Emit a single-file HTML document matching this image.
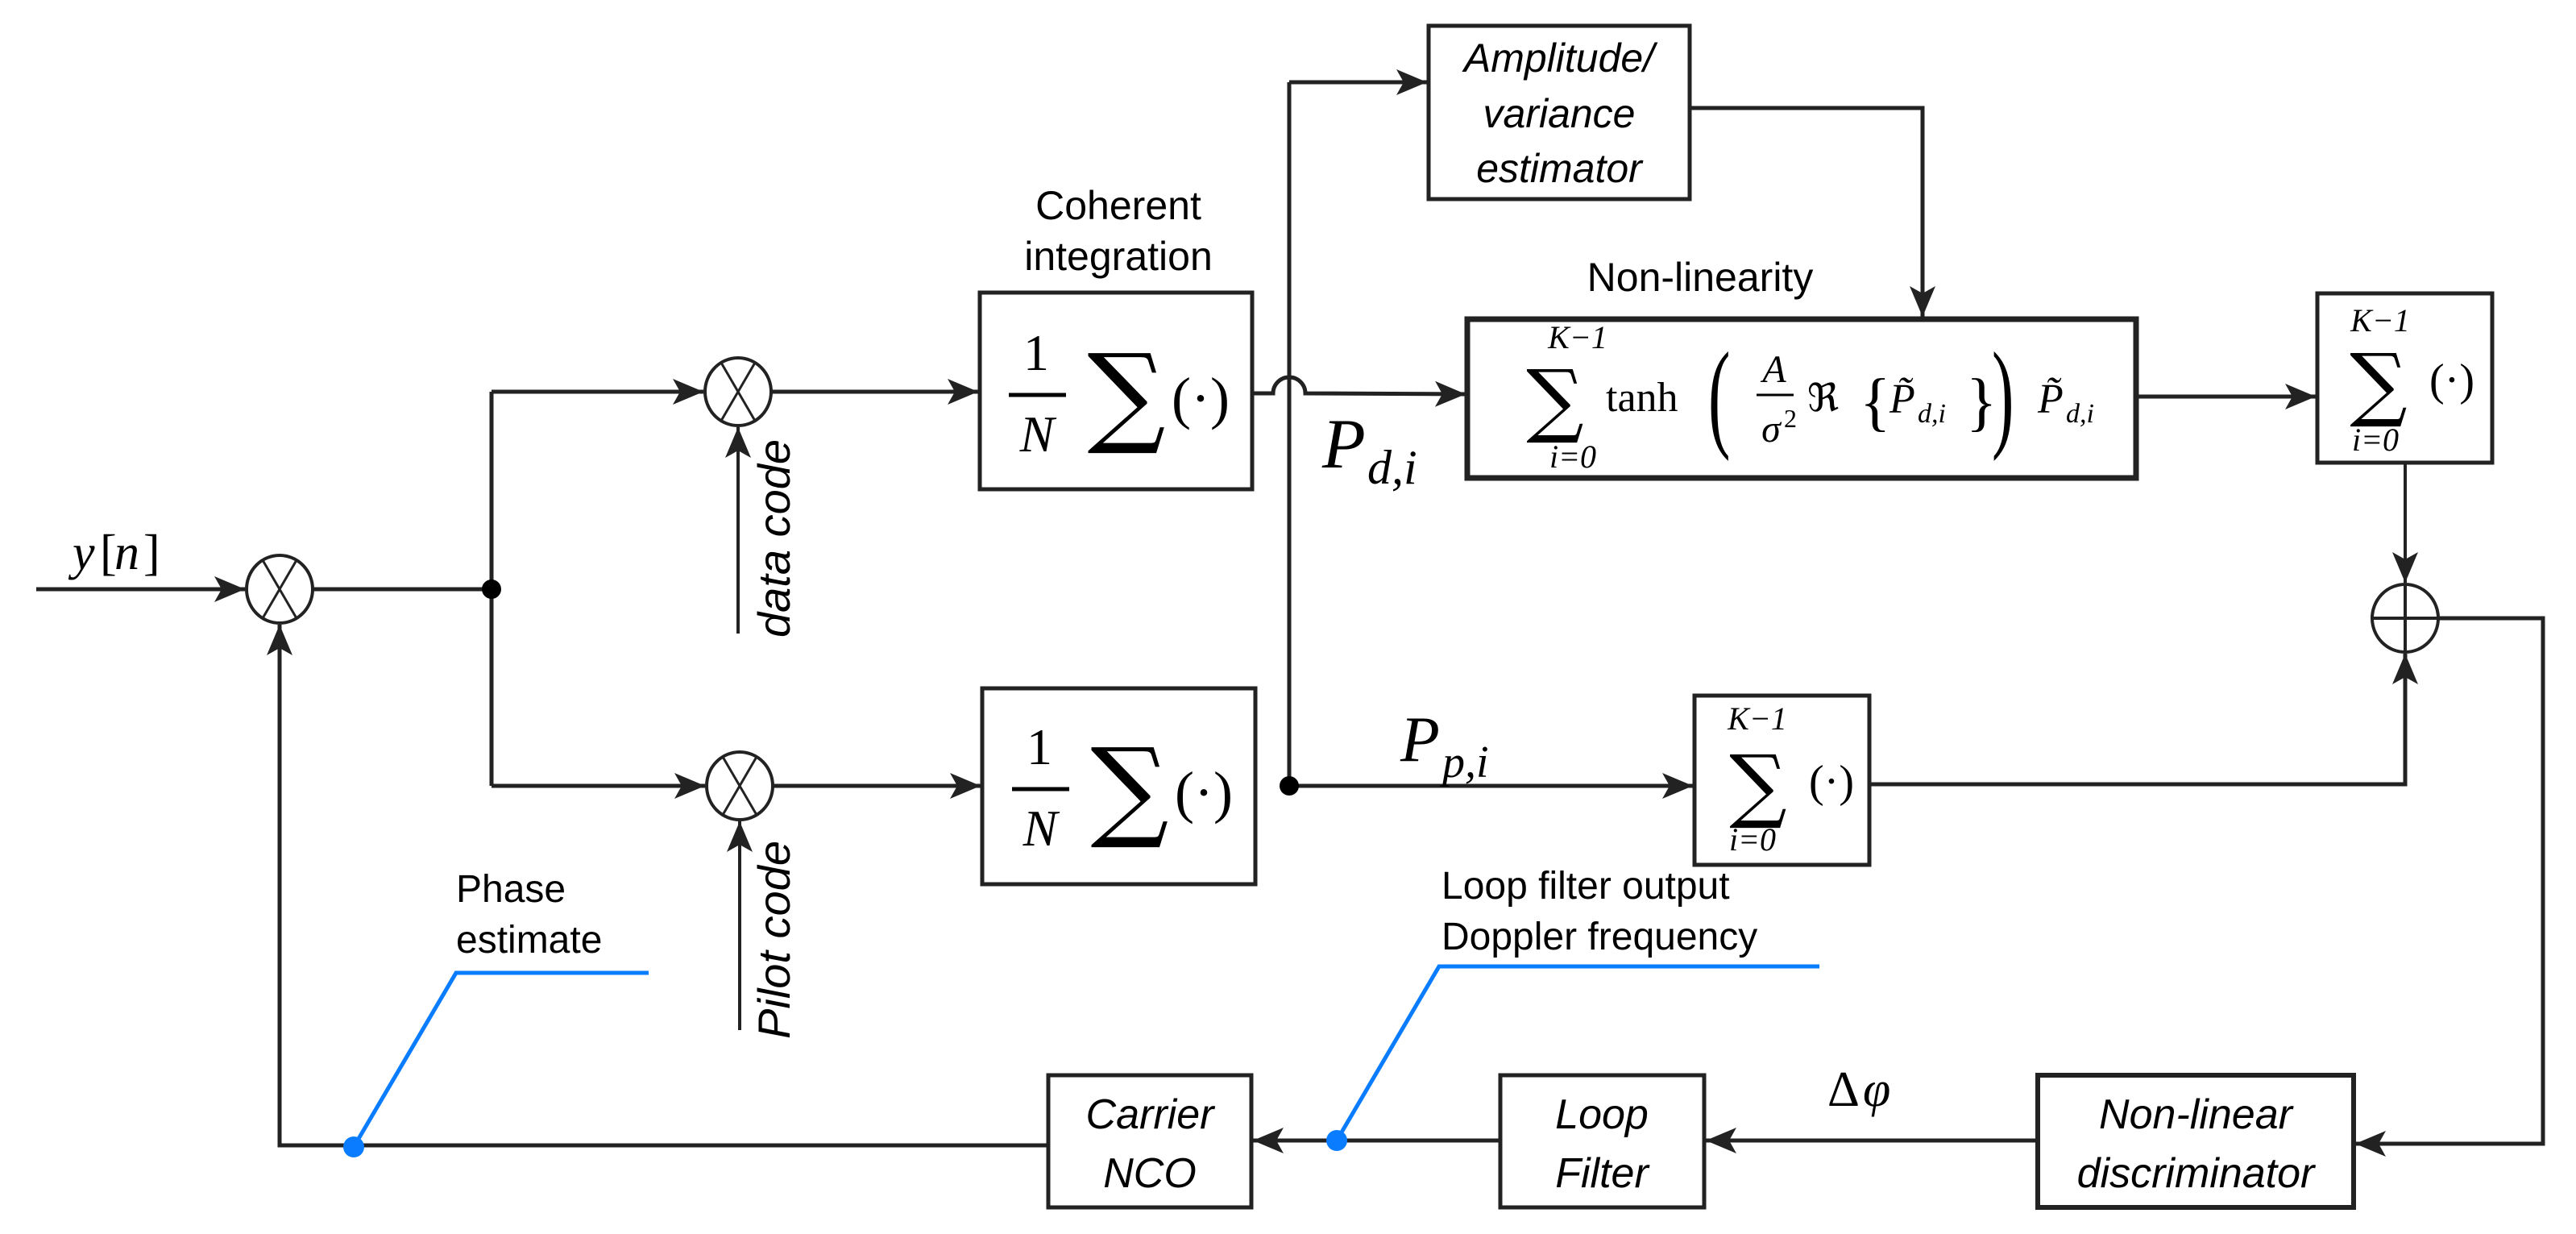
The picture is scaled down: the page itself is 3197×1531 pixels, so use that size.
<!DOCTYPE html>
<html><head><meta charset="utf-8"><style>
html,body{margin:0;padding:0;background:#fff}
svg{display:block}
.s{font-family:"Liberation Sans","DejaVu Sans",sans-serif;fill:#000}
.i{font-family:"Liberation Sans","DejaVu Sans",sans-serif;font-style:italic;fill:#000}
.m{font-family:"Liberation Serif","DejaVu Serif",serif;font-style:italic;fill:#000}
.r{font-family:"Liberation Serif","DejaVu Serif",serif;fill:#000}
.d{font-family:"DejaVu Serif",serif;fill:#000}
</style></head><body>
<svg width="3197" height="1531" viewBox="0 0 3197 1531" xmlns="http://www.w3.org/2000/svg">
<defs>
<marker id="a" markerUnits="userSpaceOnUse" markerWidth="42" markerHeight="32" refX="38" refY="16" orient="auto">
<path d="M0,0 L38,16 L0,32 L9,16 z" fill="#222"/></marker>
</defs>
<g stroke="#222" stroke-width="5" fill="none">
<line x1="45" y1="731" x2="304" y2="731" marker-end="url(#a)"/>
<ellipse cx="347" cy="731" rx="41" ry="42" stroke-width="4"/>
<line x1="326" y1="695" x2="368" y2="767" stroke-width="3"/><line x1="368" y1="695" x2="326" y2="767" stroke-width="3"/>
<line x1="389" y1="731" x2="610" y2="731"/>
<line x1="610" y1="486" x2="610" y2="975"/>
<line x1="610" y1="486" x2="873" y2="486" marker-end="url(#a)"/>
<line x1="610" y1="975" x2="875" y2="975" marker-end="url(#a)"/>
<ellipse cx="916" cy="486" rx="41" ry="42" stroke-width="4"/>
<line x1="895" y1="450" x2="937" y2="522" stroke-width="3"/><line x1="937" y1="450" x2="895" y2="522" stroke-width="3"/>
<line x1="957" y1="486" x2="1214" y2="486" marker-end="url(#a)"/>
<line x1="916" y1="786" x2="916" y2="530" stroke-width="4" marker-end="url(#a)"/>
<ellipse cx="918" cy="975" rx="41" ry="42" stroke-width="4"/>
<line x1="897" y1="939" x2="939" y2="1011" stroke-width="3"/><line x1="939" y1="939" x2="897" y2="1011" stroke-width="3"/>
<line x1="959" y1="975" x2="1217" y2="975" marker-end="url(#a)"/>
<line x1="918" y1="1278" x2="918" y2="1019" stroke-width="4" marker-end="url(#a)"/>
<rect x="1216" y="363" width="338" height="244"/>
<rect x="1219" y="854" width="339" height="243"/>
<path d="M1554,488 L1580,488 A20,20 0 0 1 1620,488 L1819,489" marker-end="url(#a)"/>
<line x1="1600" y1="975" x2="1600" y2="102"/>
<line x1="1600" y1="102" x2="1771" y2="102" marker-end="url(#a)"/>
<rect x="1773" y="32" width="324" height="215"/>
<polyline points="2097,134 2386,134 2386,393" marker-end="url(#a)"/>
<rect x="1821" y="396" width="830" height="197" stroke-width="7"/>
<line x1="2651" y1="492" x2="2874" y2="492" marker-end="url(#a)"/>
<rect x="2876" y="364" width="217" height="210"/>
<line x1="2985" y1="574" x2="2985" y2="723" stroke-width="4" marker-end="url(#a)"/>
<ellipse cx="2985" cy="767" rx="41" ry="42" stroke-width="4"/>
<line x1="2944" y1="767" x2="3026" y2="767" stroke-width="4"/><line x1="2985" y1="725" x2="2985" y2="809" stroke-width="4"/>
<polyline points="3026,767 3156,767 3156,1419 2923,1419" marker-end="url(#a)"/>
<line x1="1600" y1="975" x2="2101" y2="975" marker-end="url(#a)"/>
<rect x="2103" y="863" width="217" height="210"/>
<polyline points="2320,973 2985,973 2985,811" marker-end="url(#a)"/>
<rect x="2529" y="1334" width="392" height="164" stroke-width="6"/>
<line x1="2529" y1="1415" x2="2117" y2="1415" marker-end="url(#a)"/>
<rect x="1862" y="1334" width="253" height="164"/>
<line x1="1862" y1="1415" x2="1555" y2="1415" marker-end="url(#a)"/>
<rect x="1301" y="1334" width="252" height="164"/>
<polyline points="1301,1421 347,1421 347,775" marker-end="url(#a)"/>
</g>
<circle cx="610" cy="731" r="12" fill="#000"/>
<circle cx="1600" cy="975" r="12" fill="#000"/>
<g stroke="#0a7cff" stroke-width="5" fill="none">
<polyline points="805,1207 566,1207 439,1423"/>
<polyline points="2258,1199 1786,1199 1659,1415"/>
</g>
<circle cx="439" cy="1423" r="13" fill="#0a7cff"/>
<circle cx="1659" cy="1415" r="13" fill="#0a7cff"/>
<text class="m" x="90" y="706" font-size="62">y</text><text class="r" x="124" y="706" font-size="62">[</text><text class="m" x="142" y="706" font-size="62">n</text><text class="r" x="178" y="706" font-size="62">]</text>
<text class="s" x="1388" y="272" font-size="50" text-anchor="middle">Coherent</text>
<text class="s" x="1388" y="335" font-size="50" text-anchor="middle">integration</text>
<text class="i" transform="translate(980,668) rotate(-90)" font-size="56" text-anchor="middle">data code</text>
<text class="i" transform="translate(980,1166) rotate(-90)" font-size="56" text-anchor="middle">Pilot code</text>
<text class="i" x="1935" y="89" font-size="50" text-anchor="middle">Amplitude/</text>
<text class="i" x="1935" y="158" font-size="50" text-anchor="middle">variance</text>
<text class="i" x="1935" y="226" font-size="50" text-anchor="middle">estimator</text>
<text class="s" x="2110" y="361" font-size="50" text-anchor="middle">Non-linearity</text>
<text class="i" x="1427" y="1400" font-size="52" text-anchor="middle">Carrier</text>
<text class="i" x="1427" y="1473" font-size="52" text-anchor="middle">NCO</text>
<text class="i" x="1988" y="1400" font-size="52" text-anchor="middle">Loop</text>
<text class="i" x="1988" y="1473" font-size="52" text-anchor="middle">Filter</text>
<text class="i" x="2725" y="1400" font-size="52" text-anchor="middle">Non-linear</text>
<text class="i" x="2725" y="1473" font-size="52" text-anchor="middle">discriminator</text>
<text class="s" x="566" y="1119" font-size="48">Phase</text>
<text class="s" x="566" y="1182" font-size="48">estimate</text>
<text class="s" x="1789" y="1115" font-size="48">Loop filter output</text>
<text class="s" x="1789" y="1178" font-size="48">Doppler frequency</text>
<text class="r" x="2268" y="1372" font-size="62">Δ</text><text class="m" x="2312" y="1372" font-size="62">φ</text>
<text class="m" x="1641" y="580" font-size="88">P</text><text class="m" x="1697" y="600" font-size="60">d,i</text>
<text class="m" x="1738" y="944" font-size="80">P</text><text class="m" x="1790" y="964" font-size="56">p,i</text>
<g>
<text class="r" x="1286" y="459" font-size="64" text-anchor="middle">1</text>
<line x1="1252" y1="490" x2="1323" y2="490" stroke="#000" stroke-width="5"/>
<text class="m" x="1287" y="560" font-size="64" text-anchor="middle">N</text>
<text class="d" x="1398" y="536" font-size="136" text-anchor="middle">∑</text>
<text class="r" x="1490" y="518" font-size="72" text-anchor="middle">(·)</text>
</g>
<g transform="translate(4,489)">
<text class="r" x="1286" y="459" font-size="64" text-anchor="middle">1</text>
<line x1="1252" y1="490" x2="1323" y2="490" stroke="#000" stroke-width="5"/>
<text class="m" x="1287" y="560" font-size="64" text-anchor="middle">N</text>
<text class="d" x="1398" y="536" font-size="136" text-anchor="middle">∑</text>
<text class="r" x="1490" y="518" font-size="72" text-anchor="middle">(·)</text>
</g>
<text class="m" x="1958" y="432" font-size="40" text-anchor="middle">K−1</text>
<text class="d" x="1930" y="530" font-size="100" text-anchor="middle">∑</text>
<text class="m" x="1952" y="580" font-size="40" text-anchor="middle">i=0</text>
<text class="r" x="1993" y="510" font-size="52">tanh</text>
<text class="r" x="2120" y="540" font-size="150" transform="translate(2120,540) scale(0.55,1) translate(-2120,-540)">(</text>
<text class="m" x="2202" y="474" font-size="48" text-anchor="middle">A</text>
<line x1="2180" y1="490" x2="2226" y2="490" stroke="#000" stroke-width="3"/>
<text class="m" x="2198" y="548" font-size="48" text-anchor="middle">σ</text><text class="r" x="2214" y="530" font-size="32">2</text>
<text class="d" x="2243" y="510" font-size="48">ℜ</text>
<text class="r" x="2308" y="525" font-size="80">{</text>
<text class="m" x="2345" y="512" font-size="52">P̃</text><text class="m" x="2380" y="524" font-size="34">d,i</text>
<text class="r" x="2440" y="525" font-size="80">}</text>
<text class="r" x="2472" y="540" font-size="150" transform="translate(2472,540) scale(0.55,1) translate(-2472,-540)">)</text>
<text class="m" x="2529" y="512" font-size="52">P̃</text><text class="m" x="2564" y="524" font-size="34">d,i</text>
<text class="m" x="2954" y="411" font-size="40" text-anchor="middle">K−1</text>
<text class="d" x="2952" y="510" font-size="100" text-anchor="middle">∑</text>
<text class="r" x="3043" y="490" font-size="56" text-anchor="middle">(·)</text>
<text class="m" x="2948" y="559" font-size="40" text-anchor="middle">i=0</text>
<text class="m" x="2181" y="905" font-size="40" text-anchor="middle">K−1</text>
<text class="d" x="2182" y="1008" font-size="100" text-anchor="middle">∑</text>
<text class="r" x="2273" y="988" font-size="56" text-anchor="middle">(·)</text>
<text class="m" x="2175" y="1055" font-size="40" text-anchor="middle">i=0</text>
</svg>
</body></html>
